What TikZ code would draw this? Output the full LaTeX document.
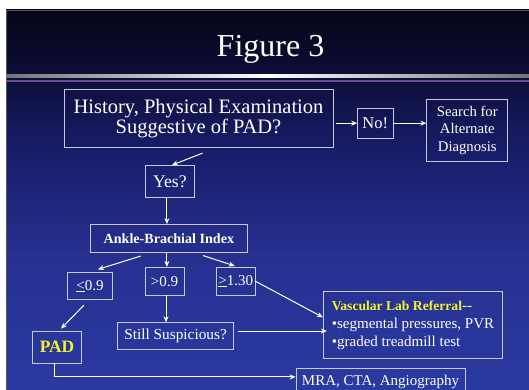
\documentclass[tikz,border=0pt]{standalone}
\usepackage{fontspec}
\setmainfont{Liberation Serif}
\usetikzlibrary{arrows.meta,calc}
\definecolor{boxc}{HTML}{C8C8DC}
\definecolor{padyellow}{HTML}{F2F22E}
\definecolor{bgA}{HTML}{06061A}
\definecolor{bgB}{HTML}{0B0C30}
\definecolor{bgC}{HTML}{181C68}
\definecolor{bgD}{HTML}{25308F}
\definecolor{bgE}{HTML}{2B3AA2}
\definecolor{sepPurple}{HTML}{6E4A96}
\pgfdeclareverticalshading{slidebg}{100bp}{color(0bp)=(bgE); color(25bp)=(bgE); color(43bp)=(bgD); color(57bp)=(bgC); color(68bp)=(bgB); color(75bp)=(bgA); color(100bp)=(bgA)}
\tikzset{
  box/.style={draw=boxc, line width=0.8pt, text=white, inner sep=0pt, align=center},
  arr/.style={draw=white, line width=1pt, -{Stealth[length=6pt,width=5pt]}},
  fs/.style={font=\fontsize{#1}{#1}\selectfont}
}
\begin{document}
\begin{tikzpicture}[x=1pt,y=-1pt]
\useasboundingbox (0,0) rectangle (529,390);
\fill[white] (0,0) rectangle (529,390);
\shade[shading=slidebg] (6,10) rectangle (529,390);
\draw[black!65, line width=1pt] (6,390) -- (6,10.5) -- (529,10.5);
% separator
\shade[left color=black!55, right color=black!55, middle color=white] (6,75) rectangle (529,77.5);
\fill[sepPurple] (6,80.5) rectangle (529,82.5);
% title
\node[text=white, font=\fontsize{32}{36}\selectfont, anchor=base] (title) at (270.5,57) {Figure 3};

% boxes
\node[box, minimum width=269pt, minimum height=58.5pt, font=\fontsize{20.5}{20}\selectfont] (main) at (198.5,118.5) {History, Physical Examination\\Suggestive of PAD?};
\node[box, minimum width=35.4pt, minimum height=30.4pt, fs=16.5] (no) at (375.3,123.2) {No!};
\node[box, minimum width=81pt, minimum height=62.5pt, font=\fontsize{14.7}{17.5}\selectfont] (search) at (467.3,130.2) {Search for\\Alternate\\Diagnosis};
\node[box, minimum width=49.7pt, minimum height=32pt, fs=17.7] (yes) at (169.9,181.5) {Yes?};
\node[box, minimum width=157pt, minimum height=27.6pt, font=\fontsize{14.1}{16}\bfseries] (abi) at (168.9,238.3) {Ankle-Brachial Index};
\node[box, minimum width=45.7pt, minimum height=27pt, fs=15] (le) at (89.9,286.3) {\underline{<}0.9};
\node[box, minimum width=39pt, minimum height=27.7pt, fs=15] (gt) at (164.5,281.2) {>0.9};
\node[box, minimum width=38.3pt, minimum height=27.7pt, fs=15] (ge) at (235.8,281.2) {\underline{>}1.30};
\node[box, align=left, minimum width=179.4pt, minimum height=67pt, font=\fontsize{15}{18}\selectfont] (vasc) at (413,325.3)
  {{\fontsize{13.6}{18}\selectfont\bfseries\color{padyellow}Vascular Lab Referral}{-}{-}\\\textbullet segmental pressures, PVR\\\textbullet graded treadmill test};
\node[box, minimum width=116.4pt, minimum height=26.6pt, fs=15.3] (still) at (175.6,336) {Still Suspicious?};
\node[box, minimum width=49.4pt, minimum height=32pt, text=padyellow, font=\fontsize{17.4}{18}\bfseries] (pad) at (57,347) {PAD};
\node[box, minimum width=169pt, minimum height=31.5pt, text height=11pt, text depth=9pt, fs=15] (mra) at (380.5,384.25) {MRA, CTA, Angiography};

% connectors
\draw[arr] ([xshift=3pt]main.east |- no.west) -- (no.west);
\draw[arr] (no.east) -- (no.east -| search.west);
\draw[arr] ([shift={(4,5)}]main.south) -- ([xshift=2]yes.north);
\draw[arr] ([xshift=-3]yes.south) -- ([xshift=-3]yes.south |- abi.north);
\draw[arr] ([shift={(-28,3.5)}]abi.south) -- ([shift={(8,-3)}]le.north);
\draw[arr] ([xshift=-2]abi.south) -- ([xshift=-2]abi.south |- gt.north);
\draw[arr] ([shift={(34,3)}]abi.south) -- ([shift={(-1,-1)}]ge.north);
\draw[arr] (ge.east) -- ([shift={(0,-8)}]vasc.west);
\draw[arr] ([xshift=1.5]gt.south) -- ([xshift=1.5]gt.south |- still.north);
\draw[arr] ([shift={(4,-5)}]still.east) -- ([shift={(4,-5)}]still.east -| vasc.west);
\draw[arr] ([shift={(-6,5)}]le.south) -- ([shift={(4,-2)}]pad.north);
\draw[arr] ([xshift=-3]pad.south) |- ([shift={(0,-7.3)}]mra.west);
\end{tikzpicture}
\end{document}
